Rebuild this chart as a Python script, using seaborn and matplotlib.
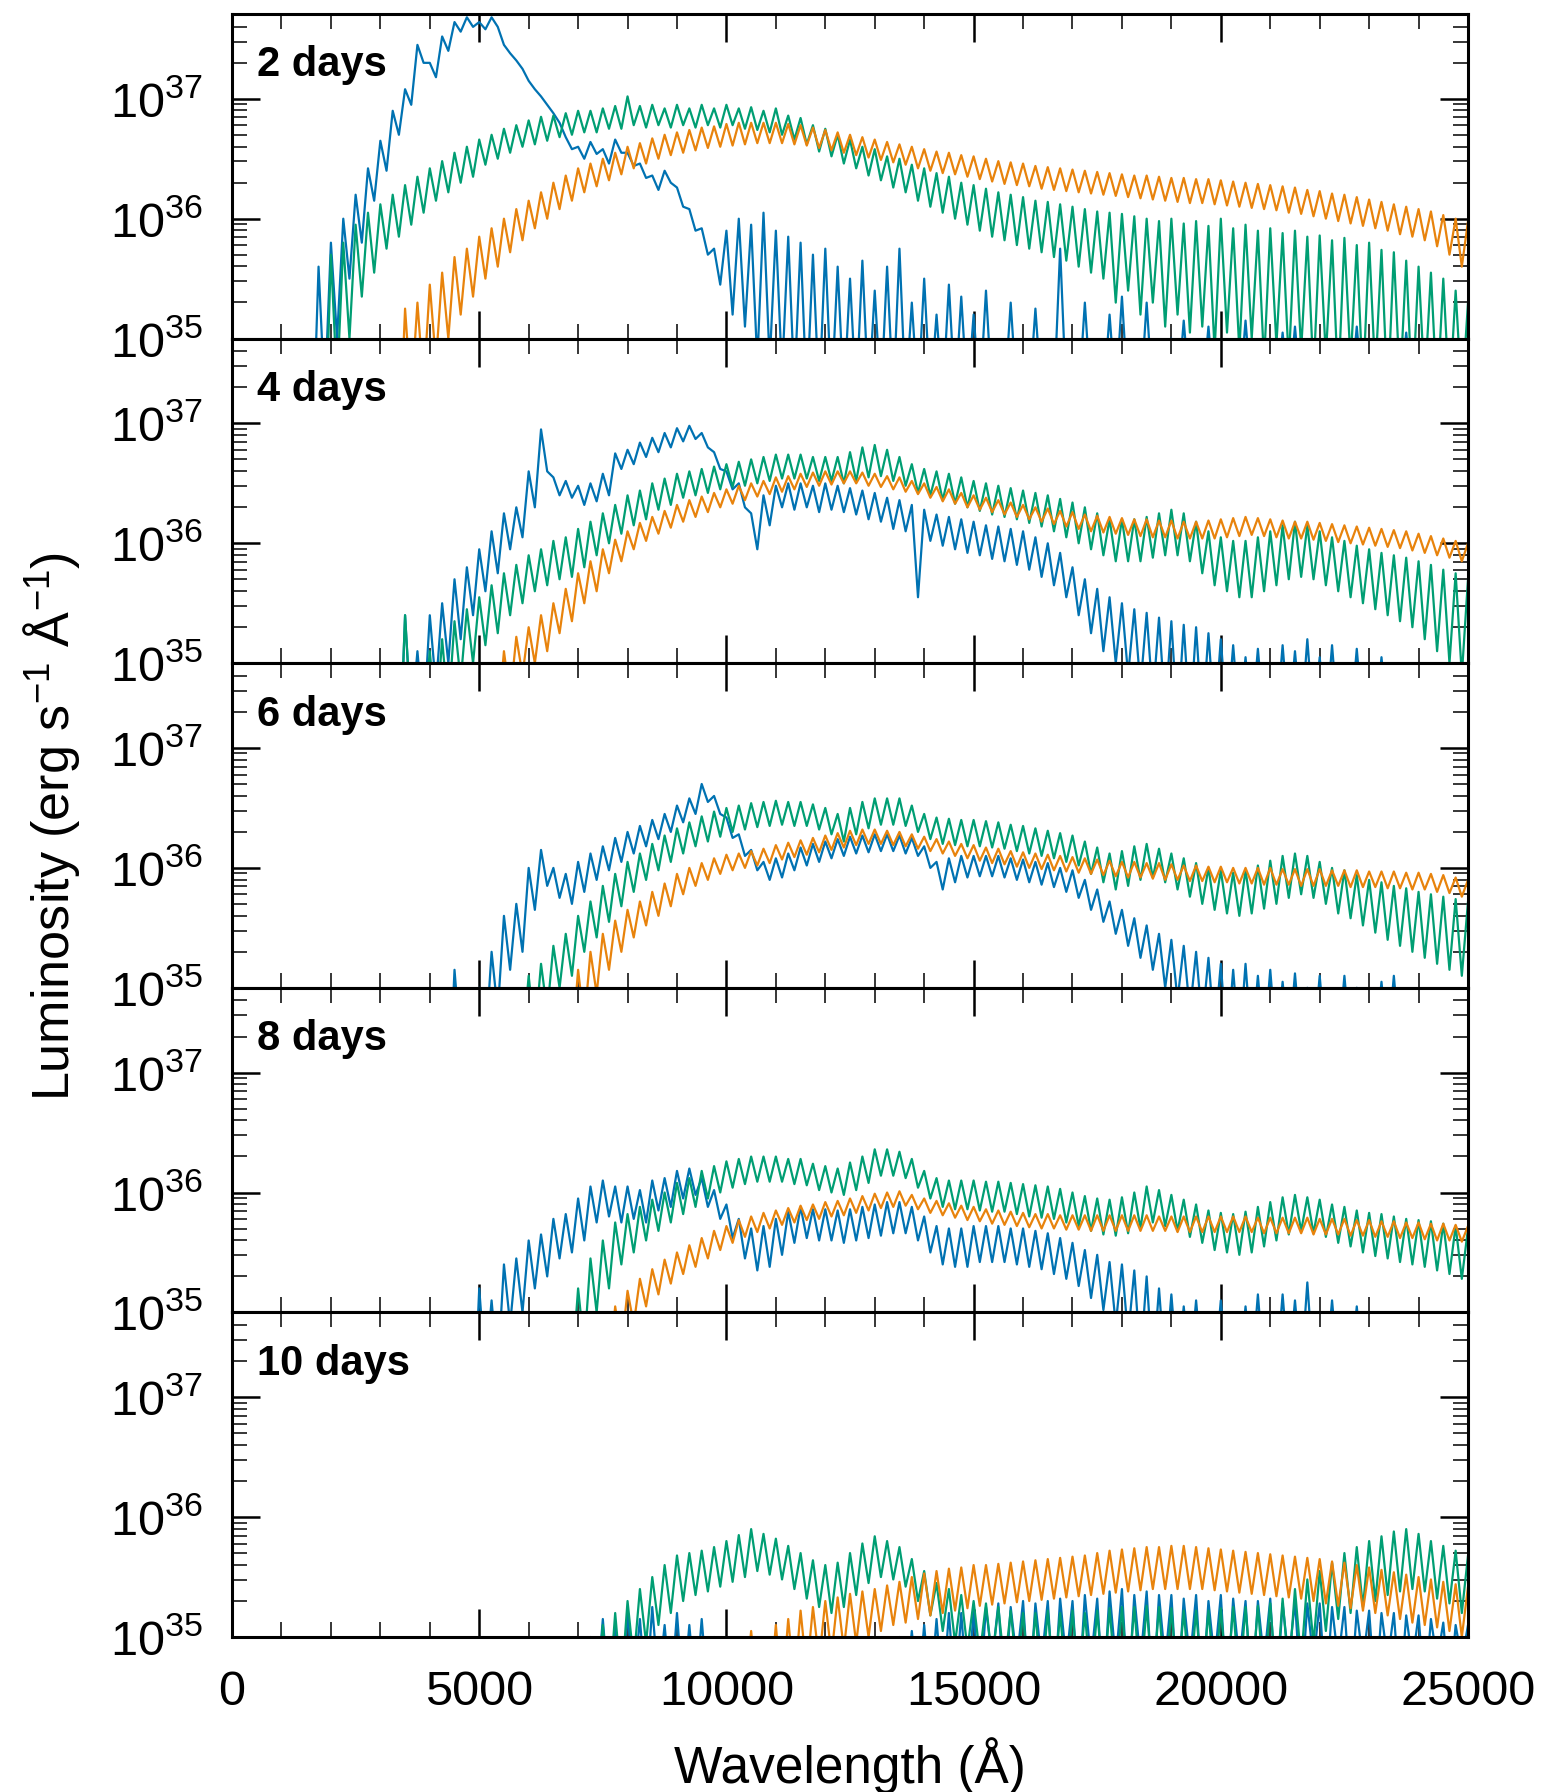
import numpy as np
import pandas as pd
import matplotlib
matplotlib.use("Agg")
import matplotlib.pyplot as plt
import seaborn as sns
from matplotlib.ticker import MultipleLocator, LogLocator, LogFormatterMathtext, NullFormatter

# ---------------- data: log10 luminosity ----------------
# Each noisy spectrum is given by its upper-envelope readings (at wave_hi)
# and its lower-envelope readings (at wave_lo, half a step later).
wave_hi = np.arange(0, 25001, 250)
wave_lo = wave_hi + 125
days = [2, 4, 6, 8, 10]
models = ["blue", "green", "orange"]
colors = {"blue": "#0072B2", "green": "#009E73", "orange": "#E8830C"}

# ---- 2 days ----
b1_hi = [34,34,34,34,34,34,34,35.6,35.8,36.0,
         36.2,36.42,36.65,36.9,37.08,37.45,37.3,37.52,37.64,37.68,
         37.64,37.68,37.45,37.32,37.15,37.02,36.88,36.68,36.6,36.64,
         36.58,36.66,36.55,36.46,36.36,36.4,36.26,36.08,35.92,35.75,
         35.9,36.0,35.95,36.05,35.9,35.85,35.8,35.7,35.75,35.6,
         35.5,35.65,35.4,35.6,35.75,35.3,35.5,35.2,35.45,35.35,
         35.2,35.4,34.5,35.3,34.5,35.25,34.5,35.75,34.5,35.3,
         34.5,35.2,35.35,34.5,35.3,34.5,35.0,35.15,34.5,35.1,
         34.5,34.5,35.15,34.5,34.5,35.05,35.1,34.5,34.5,34.5,
         34.5,35.1,34.5,34.5,34.5,35.05,34.5,34.5,34.5,34.5,
         34.5]
b1_lo = [34,34,34,34,34,34,34,34.5,35.0,35.5,
         35.8,36.15,36.4,36.7,36.95,37.3,37.18,37.4,37.56,37.6,
         37.58,37.6,37.38,37.25,37.08,36.95,36.8,36.58,36.5,36.54,
         36.46,36.55,36.44,36.34,36.24,36.3,36.1,35.9,35.7,35.45,
         35.2,35.1,34.8,34.8,34.7,34.6,34.5,34.5,34.5,34.5,
         34.5,34.5,34.5,34.5,34.5,34.5,34.5,34.5,34.5,34.5,
         34.5,34.5,34.5,34.5,34.5,34.5,34.5,34.5,34.5,34.5,
         34.5,34.5,34.5,34.5,34.5,34.5,34.5,34.5,34.5,34.5,
         34.5,34.5,34.5,34.5,34.5,34.5,34.5,34.5,34.5,34.5,
         34.5,34.5,34.5,34.5,34.5,34.5,34.5,34.5,34.5,34.5,
         34.5]
g1_hi = [34,34,34,34,34,34,34,34,35.7,35.8,
         35.95,36.05,36.12,36.2,36.28,36.35,36.42,36.48,36.55,36.6,
         36.66,36.7,36.75,36.78,36.82,36.85,36.86,36.88,36.9,36.9,
         36.92,36.94,37.02,36.94,36.95,36.92,36.95,36.92,36.95,36.92,
         36.95,36.92,36.93,36.9,36.92,36.86,36.84,36.78,36.75,36.7,
         36.66,36.6,36.58,36.52,36.5,36.45,36.42,36.38,36.35,36.3,
         36.28,36.25,36.22,36.2,36.18,36.15,36.14,36.12,36.1,36.08,
         36.06,36.05,36.04,36.02,36.0,35.98,36.0,35.96,35.98,35.94,
         36.0,35.92,35.95,35.9,35.92,35.88,35.9,35.85,35.86,35.82,
         35.84,35.78,35.8,35.74,35.72,35.65,35.6,35.55,35.5,35.4,
         35.3]
g1_lo = [34,34,34,34,34,34,34,34,34.6,35.0,
         35.35,35.55,35.75,35.85,35.95,36.05,36.15,36.22,36.3,36.35,
         36.45,36.5,36.55,36.6,36.62,36.65,36.68,36.7,36.72,36.72,
         36.75,36.75,36.78,36.76,36.78,36.76,36.78,36.76,36.78,36.76,
         36.78,36.75,36.74,36.72,36.7,36.66,36.62,36.56,36.52,36.46,
         36.42,36.36,36.32,36.26,36.22,36.15,36.1,36.05,36.0,35.95,
         35.9,35.85,35.82,35.78,35.75,35.72,35.68,35.65,35.6,35.55,
         35.5,35.3,35.4,35.2,35.3,35.1,35.2,35.05,35.1,34.9,
         35.05,34.9,35.0,34.8,34.95,34.8,34.9,34.7,34.85,34.6,
         34.8,34.6,34.7,34.5,34.6,34.5,34.6,34.5,34.5,34.5,
         34.5]
o1_hi = [34,34,34,34,34,34,34,34,34,34,
         34,34,34,34,35.25,35.3,35.45,35.55,35.68,35.75,
         35.85,35.92,36.0,36.08,36.15,36.22,36.3,36.36,36.42,36.46,
         36.5,36.55,36.6,36.63,36.67,36.7,36.72,36.74,36.76,36.77,
         36.79,36.8,36.8,36.8,36.8,36.79,36.78,36.76,36.74,36.72,
         36.7,36.68,36.66,36.64,36.62,36.6,36.58,36.56,36.55,36.53,
         36.52,36.5,36.48,36.47,36.46,36.44,36.43,36.42,36.41,36.4,
         36.39,36.38,36.37,36.36,36.36,36.35,36.34,36.34,36.33,36.33,
         36.32,36.31,36.3,36.29,36.28,36.27,36.26,36.24,36.23,36.21,
         36.2,36.18,36.16,36.14,36.12,36.1,36.08,36.06,36.03,36.0,
         35.98]
o1_lo = [34,34,34,34,34,34,34,34,34,34,
         34,34,34,34,34.5,34.6,34.8,35.0,35.2,35.35,
         35.5,35.6,35.72,35.82,35.92,36.0,36.08,36.15,36.22,36.27,
         36.32,36.37,36.42,36.46,36.5,36.53,36.55,36.57,36.59,36.6,
         36.61,36.62,36.63,36.63,36.63,36.62,36.61,36.59,36.57,36.55,
         36.53,36.51,36.49,36.47,36.45,36.42,36.4,36.38,36.37,36.35,
         36.33,36.31,36.29,36.28,36.27,36.25,36.24,36.23,36.22,36.21,
         36.2,36.19,36.18,36.17,36.16,36.15,36.14,36.13,36.13,36.12,
         36.11,36.1,36.09,36.08,36.07,36.05,36.04,36.02,36.0,35.98,
         35.96,35.94,35.92,35.9,35.87,35.85,35.82,35.77,35.7,35.6,
         35.7]

# ---- 4 days ----
b2_hi = [34,34,34,34,34,34,34,34,34,34,
         34,34,34,34,35.4,35.1,35.4,35.5,35.7,35.8,
         35.95,36.1,36.25,36.3,36.6,36.95,36.55,36.52,36.48,36.5,
         36.58,36.75,36.78,36.84,36.88,36.92,36.96,36.98,36.92,36.76,
         36.6,36.5,36.25,36.4,36.48,36.5,36.5,36.48,36.5,36.48,
         36.46,36.44,36.42,36.38,36.36,36.32,36.28,36.24,36.22,36.2,
         36.18,36.15,36.14,36.12,36.1,36.05,36.0,35.92,35.8,35.7,
         35.62,35.55,35.5,35.45,35.42,35.38,35.35,35.32,35.3,35.25,
         35.2,35.15,35.05,35.12,34.5,35.15,35.1,35.2,35.05,35.15,
         35.0,35.12,34.5,35.05,34.5,34.5,34.5,34.5,34.5,34.5,
         34.5]
b2_lo = [34,34,34,34,34,34,34,34,34,34,
         34,34,34,34,34.5,34.5,34.8,35.0,35.2,35.4,
         35.6,35.75,35.95,36.05,36.3,36.6,36.4,36.38,36.32,36.35,
         36.4,36.62,36.66,36.72,36.76,36.8,36.85,36.87,36.8,36.62,
         36.45,36.3,35.95,36.15,36.3,36.28,36.3,36.26,36.28,36.26,
         36.24,36.2,36.18,36.12,36.1,35.55,36.02,35.98,35.95,35.92,
         35.9,35.87,35.85,35.82,35.78,35.72,35.65,35.55,35.4,35.25,
         35.1,35.0,34.9,34.8,34.7,34.6,34.5,34.5,34.5,34.5,
         34.5,34.5,34.5,34.5,34.5,34.5,34.5,34.5,34.5,34.5,
         34.5,34.5,34.5,34.5,34.5,34.5,34.5,34.5,34.5,34.5,
         34.5]
g2_hi = [34,34,34,34,34,34,34,34,34,34,
         34,34,34,34,35.4,34.5,35.1,35.2,35.35,35.45,
         35.55,35.65,35.75,35.82,35.9,35.95,36.02,36.05,36.12,36.18,
         36.25,36.32,36.4,36.44,36.5,36.54,36.58,36.6,36.62,36.64,
         36.66,36.68,36.7,36.72,36.74,36.74,36.74,36.72,36.72,36.72,
         36.76,36.8,36.82,36.78,36.72,36.66,36.62,36.6,36.58,36.55,
         36.52,36.5,36.48,36.46,36.44,36.42,36.4,36.37,36.34,36.3,
         36.25,36.2,36.2,36.2,36.22,36.25,36.28,36.25,36.18,36.1,
         36.05,36.02,36.02,36.05,36.1,36.15,36.18,36.15,36.1,36.05,
         36.02,35.98,35.95,35.92,35.9,35.88,35.85,35.82,35.78,35.75,
         35.7]
g2_lo = [34,34,34,34,34,34,34,34,34,34,
         34,34,34,34,34.5,34.5,34.5,34.6,34.85,35.0,
         35.15,35.25,35.4,35.5,35.6,35.65,35.7,35.72,35.8,35.9,
         36.0,36.08,36.15,36.2,36.28,36.32,36.38,36.4,36.42,36.45,
         36.47,36.48,36.5,36.52,36.54,36.54,36.54,36.52,36.52,36.5,
         36.52,36.55,36.56,36.52,36.48,36.42,36.4,36.36,36.33,36.3,
         36.27,36.24,36.22,36.2,36.17,36.14,36.1,36.05,36.0,35.95,
         35.9,35.85,35.85,35.85,35.88,35.9,35.9,35.85,35.75,35.65,
         35.6,35.55,35.55,35.6,35.65,35.7,35.72,35.7,35.65,35.6,
         35.55,35.5,35.45,35.4,35.35,35.3,35.2,35.1,35.0,34.9,
         35.2]
o2_hi = [34,34,34,34,34,34,34,34,34,34,
         34,34,34,34,34,34,34,34,34,34,
         34,35.0,35.1,35.22,35.3,35.4,35.5,35.62,35.75,35.85,
         35.95,36.03,36.1,36.17,36.22,36.27,36.32,36.36,36.39,36.42,
         36.45,36.48,36.5,36.52,36.55,36.56,36.58,36.59,36.6,36.6,
         36.6,36.59,36.58,36.56,36.55,36.52,36.5,36.47,36.45,36.42,
         36.4,36.38,36.36,36.34,36.32,36.3,36.29,36.27,36.26,36.24,
         36.23,36.22,36.21,36.2,36.2,36.19,36.19,36.18,36.18,36.19,
         36.2,36.21,36.22,36.21,36.2,36.19,36.18,36.18,36.17,36.16,
         36.15,36.14,36.13,36.12,36.11,36.1,36.08,36.06,36.04,36.02,
         36.0]
o2_lo = [34,34,34,34,34,34,34,34,34,34,
         34,34,34,34,34,34,34,34,34,34,
         34,34.5,34.7,34.9,35.0,35.1,35.25,35.35,35.5,35.6,
         35.75,35.85,35.95,36.02,36.08,36.13,36.18,36.22,36.26,36.3,
         36.33,36.36,36.39,36.41,36.43,36.45,36.47,36.48,36.49,36.5,
         36.5,36.48,36.47,36.45,36.43,36.41,36.38,36.35,36.33,36.3,
         36.28,36.26,36.24,36.22,36.2,36.18,36.16,36.14,36.12,36.1,
         36.09,36.08,36.07,36.06,36.05,36.05,36.04,36.04,36.04,36.04,
         36.05,36.06,36.07,36.06,36.05,36.04,36.04,36.03,36.02,36.01,
         36.0,35.99,35.98,35.97,35.96,35.94,35.92,35.9,35.88,35.85,
         35.88]

# ---- 6 days ----
b3_hi = [34,34,34,34,34,34,34,34,34,34,
         34,34,34,34,34,34,34,34,35.15,34.5,
         35.0,35.3,35.6,35.7,36.0,36.15,36.0,35.95,36.05,36.12,
         36.18,36.25,36.3,36.35,36.4,36.45,36.52,36.58,36.7,36.6,
         36.42,36.28,36.15,36.05,36.08,36.12,36.17,36.2,36.22,36.24,
         36.26,36.27,36.28,36.28,36.27,36.25,36.18,36.05,36.08,36.1,
         36.1,36.1,36.1,36.08,36.07,36.05,36.04,36.0,35.98,35.9,
         35.82,35.72,35.65,35.58,35.52,35.45,35.4,35.35,35.3,35.25,
         35.2,35.15,35.2,35.1,35.15,35.05,35.12,35.0,35.1,34.5,
         35.1,35.0,34.5,35.05,35.1,34.5,34.5,34.5,34.5,34.5,
         34.5]
b3_lo = [34,34,34,34,34,34,34,34,34,34,
         34,34,34,34,34,34,34,34,34.5,34.5,
         34.5,34.8,35.15,35.3,35.65,35.85,35.75,35.7,35.8,35.9,
         35.98,36.05,36.12,36.18,36.24,36.3,36.38,36.45,36.55,36.45,
         36.25,36.1,35.98,35.9,35.92,35.98,36.02,36.05,36.08,36.1,
         36.12,36.13,36.14,36.14,36.12,36.1,36.0,35.82,35.88,35.92,
         35.93,35.93,35.92,35.9,35.88,35.86,35.84,35.8,35.75,35.65,
         35.55,35.45,35.35,35.25,35.15,35.0,34.9,34.8,34.7,34.6,
         34.5,34.5,34.5,34.5,34.5,34.5,34.5,34.5,34.5,34.5,
         34.5,34.5,34.5,34.5,34.5,34.5,34.5,34.5,34.5,34.5,
         34.5]
g3_hi = [34,34,34,34,34,34,34,34,34,34,
         34,34,34,34,34,34,34,34,34,34,
         34,34,34,34.8,35.1,35.2,35.35,35.45,35.6,35.72,
         35.85,35.95,36.05,36.12,36.2,36.27,36.33,36.38,36.43,36.47,
         36.5,36.52,36.54,36.55,36.56,36.55,36.55,36.53,36.5,36.45,
         36.5,36.55,36.58,36.58,36.58,36.52,36.45,36.42,36.41,36.4,
         36.4,36.39,36.38,36.36,36.35,36.33,36.31,36.29,36.27,36.22,
         36.17,36.12,36.14,36.18,36.2,36.16,36.12,36.08,36.04,36.0,
         35.98,35.96,35.98,36.02,36.06,36.1,36.12,36.1,36.05,36.0,
         35.98,35.94,35.9,35.88,35.85,35.83,35.8,35.78,35.76,35.74,
         35.72]
g3_lo = [34,34,34,34,34,34,34,34,34,34,
         34,34,34,34,34,34,34,34,34,34,
         34,34,34,34.5,34.6,34.8,35.0,35.1,35.3,35.42,
         35.55,35.68,35.8,35.9,35.98,36.05,36.12,36.18,36.22,36.26,
         36.3,36.32,36.34,36.35,36.36,36.35,36.35,36.32,36.28,36.22,
         36.28,36.33,36.36,36.36,36.35,36.3,36.24,36.2,36.19,36.18,
         36.18,36.17,36.16,36.14,36.12,36.1,36.08,36.05,36.02,35.95,
         35.88,35.82,35.85,35.9,35.92,35.88,35.82,35.76,35.7,35.65,
         35.62,35.6,35.62,35.66,35.7,35.75,35.78,35.75,35.7,35.62,
         35.58,35.52,35.46,35.4,35.35,35.3,35.25,35.2,35.15,35.1,
         35.4]
o3_hi = [34,34,34,34,34,34,34,34,34,34,
         34,34,34,34,34,34,34,34,34,34,
         34,34,34,34,34,34,34,34.9,35.15,35.3,
         35.45,35.56,35.65,35.72,35.8,35.87,35.95,36.0,36.04,36.08,
         36.11,36.12,36.14,36.16,36.19,36.21,36.23,36.25,36.27,36.29,
         36.31,36.32,36.32,36.31,36.3,36.28,36.26,36.24,36.22,36.2,
         36.19,36.17,36.16,36.14,36.13,36.12,36.11,36.1,36.09,36.08,
         36.07,36.06,36.05,36.05,36.04,36.04,36.03,36.02,36.02,36.01,
         36.01,36.0,36.0,36.0,36.0,35.99,35.99,35.99,35.99,35.98,
         35.98,35.98,35.97,35.97,35.97,35.96,35.96,35.95,35.94,35.92,
         35.9]
o3_lo = [34,34,34,34,34,34,34,34,34,34,
         34,34,34,34,34,34,34,34,34,34,
         34,34,34,34,34,34,34,34.5,34.7,34.95,
         35.15,35.3,35.42,35.52,35.6,35.68,35.78,35.85,35.9,35.95,
         35.98,36.0,36.02,36.04,36.07,36.09,36.11,36.13,36.15,36.17,
         36.19,36.2,36.2,36.19,36.18,36.16,36.14,36.12,36.1,36.08,
         36.06,36.04,36.03,36.01,36.0,35.99,35.98,35.97,35.96,35.95,
         35.94,35.93,35.92,35.92,35.91,35.9,35.9,35.89,35.89,35.88,
         35.88,35.87,35.87,35.86,35.86,35.86,35.85,35.85,35.85,35.85,
         35.84,35.84,35.84,35.83,35.83,35.82,35.82,35.8,35.79,35.76,
         35.78]

# ---- 8 days ----
b4_hi = [34,34,34,34,34,34,34,34,34,34,
         34,34,34,34,34,34,34,34,34,34,
         35.2,35.1,35.4,35.45,35.6,35.65,35.78,35.82,35.95,36.05,
         36.1,36.05,36.05,36.02,36.1,36.12,36.18,36.2,36.12,36.02,
         35.9,35.78,35.7,35.72,35.78,35.84,35.88,35.86,35.86,35.85,
         35.86,35.88,35.9,35.92,35.92,35.88,35.8,35.72,35.7,35.7,
         35.72,35.72,35.72,35.7,35.7,35.68,35.66,35.62,35.58,35.52,
         35.48,35.42,35.4,35.35,35.3,35.2,35.15,35.05,35.1,35.0,
         35.1,34.5,35.05,35.15,34.5,35.15,35.1,35.25,35.0,35.1,
         34.5,35.05,34.5,34.5,34.5,34.5,34.5,34.5,34.5,34.5,
         34.5]
b4_lo = [34,34,34,34,34,34,34,34,34,34,
         34,34,34,34,34,34,34,34,34,34,
         34.5,34.5,34.9,35.0,35.2,35.3,35.45,35.5,35.6,35.75,
         35.8,35.75,35.78,35.75,35.85,35.88,35.95,35.98,35.88,35.78,
         35.62,35.45,35.35,35.38,35.48,35.58,35.62,35.6,35.6,35.58,
         35.6,35.62,35.64,35.66,35.66,35.6,35.5,35.4,35.38,35.38,
         35.42,35.42,35.42,35.4,35.38,35.36,35.32,35.28,35.22,35.12,
         35.02,34.9,34.8,34.6,34.5,34.5,34.5,34.5,34.5,34.5,
         34.5,34.5,34.5,34.5,34.5,34.5,34.5,34.5,34.5,34.5,
         34.5,34.5,34.5,34.5,34.5,34.5,34.5,34.5,34.5,34.5,
         34.5]
g4_hi = [34,34,34,34,34,34,34,34,34,34,
         34,34,34,34,34,34,34,34,34,34,
         34,34,34,34,34,34,34,34.9,35.2,35.45,
         35.6,35.75,35.82,35.88,35.94,36.0,36.08,36.12,36.18,36.22,
         36.26,36.28,36.3,36.3,36.3,36.28,36.28,36.24,36.22,36.2,
         36.25,36.3,36.36,36.36,36.34,36.28,36.18,36.12,36.1,36.1,
         36.1,36.09,36.09,36.08,36.07,36.06,36.05,36.03,36.0,35.97,
         35.95,35.94,35.96,36.0,36.05,36.02,35.98,35.94,35.9,35.85,
         35.83,35.82,35.84,35.88,35.92,35.96,35.98,35.96,35.94,35.9,
         35.88,35.85,35.83,35.82,35.8,35.78,35.77,35.76,35.74,35.72,
         35.7]
g4_lo = [34,34,34,34,34,34,34,34,34,34,
         34,34,34,34,34,34,34,34,34,34,
         34,34,34,34,34,34,34,34.5,34.7,35.0,
         35.2,35.4,35.5,35.6,35.68,35.75,35.82,35.88,35.95,36.0,
         36.04,36.07,36.09,36.09,36.09,36.07,36.06,36.02,36.0,35.98,
         36.02,36.08,36.14,36.14,36.12,36.04,35.95,35.88,35.86,35.86,
         35.85,35.84,35.84,35.82,35.8,35.79,35.78,35.75,35.72,35.68,
         35.65,35.64,35.66,35.7,35.75,35.72,35.68,35.63,35.58,35.52,
         35.5,35.48,35.5,35.55,35.6,35.65,35.68,35.66,35.63,35.58,
         35.55,35.5,35.47,35.45,35.42,35.4,35.38,35.35,35.32,35.28,
         35.4]
o4_hi = [34,34,34,34,34,34,34,34,34,34,
         34,34,34,34,34,34,34,34,34,34,
         34,34,34,34,34,34,34,34,34,34,
         34.9,35.05,35.18,35.28,35.36,35.44,35.5,35.56,35.62,35.68,
         35.72,35.77,35.8,35.83,35.85,35.87,35.89,35.9,35.92,35.93,
         35.95,35.97,35.99,36.0,36.01,35.98,35.95,35.93,35.91,35.89,
         35.88,35.86,35.85,35.84,35.83,35.82,35.82,35.81,35.81,35.81,
         35.81,35.81,35.81,35.81,35.81,35.8,35.8,35.8,35.8,35.8,
         35.8,35.8,35.8,35.79,35.79,35.79,35.79,35.79,35.78,35.78,
         35.78,35.77,35.77,35.76,35.76,35.75,35.75,35.74,35.74,35.73,
         35.72]
o4_lo = [34,34,34,34,34,34,34,34,34,34,
         34,34,34,34,34,34,34,34,34,34,
         34,34,34,34,34,34,34,34,34,34,
         34.5,34.7,34.9,35.05,35.15,35.24,35.32,35.38,35.45,35.52,
         35.58,35.63,35.67,35.7,35.73,35.75,35.77,35.78,35.8,35.81,
         35.83,35.85,35.87,35.88,35.89,35.86,35.83,35.81,35.79,35.77,
         35.76,35.74,35.73,35.72,35.71,35.7,35.7,35.69,35.69,35.68,
         35.68,35.68,35.68,35.68,35.68,35.68,35.67,35.67,35.67,35.67,
         35.67,35.67,35.67,35.66,35.66,35.66,35.66,35.65,35.65,35.65,
         35.64,35.64,35.63,35.63,35.62,35.62,35.61,35.6,35.6,35.59,
         35.6]

# ---- 10 days ----
b5_hi = [34,34,34,34,34,34,34,34,34,34,
         34,34,34,34,34,34,34,34,34,34,
         34,34,34,34,34,34,34,34,34,35.0,
         35.15,35.1,35.2,35.15,35.25,35.1,35.2,35.1,35.15,35.0,
         34.5,34.5,34.5,34.5,34.5,34.5,34.5,34.5,34.5,34.5,
         34.5,34.5,34.5,34.9,35.0,35.05,35.1,35.15,35.2,35.2,
         35.22,35.25,35.28,35.25,35.3,35.28,35.3,35.32,35.3,35.35,
         35.32,35.38,35.4,35.35,35.38,35.35,35.35,35.32,35.35,35.3,
         35.35,35.32,35.3,35.3,35.32,35.28,35.3,35.28,35.28,35.25,
         35.25,35.22,35.22,35.2,35.2,35.18,35.18,35.15,35.12,35.1,
         35.1]
b5_lo = [34,34,34,34,34,34,34,34,34,34,
         34,34,34,34,34,34,34,34,34,34,
         34,34,34,34,34,34,34,34,34,34.5,
         34.5,34.5,34.6,34.5,34.6,34.5,34.5,34.5,34.5,34.5,
         34.5,34.5,34.5,34.5,34.5,34.5,34.5,34.5,34.5,34.5,
         34.5,34.5,34.5,34.5,34.5,34.5,34.5,34.5,34.5,34.5,
         34.5,34.8,34.5,34.8,34.5,34.8,34.5,34.8,34.5,34.8,
         34.5,34.8,34.5,34.8,34.5,34.8,34.5,34.8,34.5,34.8,
         34.5,34.8,34.5,34.8,34.5,34.8,34.5,34.8,34.5,34.8,
         34.5,34.8,34.5,34.8,34.5,34.8,34.5,34.8,34.5,34.8,
         34.5]
g5_hi = [34,34,34,34,34,34,34,34,34,34,
         34,34,34,34,34,34,34,34,34,34,
         34,34,34,34,34,34,34,34,34,34.8,
         35.1,35.2,35.3,35.4,35.5,35.6,35.68,35.7,35.72,35.75,
         35.8,35.85,35.9,35.86,35.82,35.76,35.7,35.64,35.6,35.62,
         35.7,35.78,35.84,35.8,35.75,35.65,35.55,35.45,35.4,35.35,
         35.3,35.28,35.25,35.22,35.2,35.2,35.22,35.2,35.22,35.2,
         35.22,35.24,35.25,35.25,35.26,35.25,35.24,35.22,35.22,35.22,
         35.24,35.25,35.25,35.26,35.28,35.32,35.4,35.48,35.55,35.62,
         35.7,35.75,35.8,35.84,35.88,35.9,35.86,35.8,35.76,35.72,
         35.68]
g5_lo = [34,34,34,34,34,34,34,34,34,34,
         34,34,34,34,34,34,34,34,34,34,
         34,34,34,34,34,34,34,34,34,34.5,
         34.5,34.6,34.8,34.95,35.1,35.2,35.3,35.35,35.38,35.42,
         35.46,35.5,35.55,35.52,35.48,35.4,35.32,35.25,35.2,35.25,
         35.35,35.45,35.5,35.48,35.42,35.3,35.18,35.05,34.95,34.9,
         34.85,34.8,34.75,34.7,34.6,34.6,34.6,34.6,34.6,34.6,
         34.6,34.6,34.6,34.6,34.6,34.6,34.6,34.6,34.6,34.6,
         34.6,34.6,34.6,34.6,34.6,34.7,34.8,34.95,35.05,35.15,
         35.2,35.25,35.3,35.35,35.38,35.4,35.38,35.32,35.28,35.2,
         35.3]
o5_hi = [34,34,34,34,34,34,34,34,34,34,
         34,34,34,34,34,34,34,34,34,34,
         34,34,34,34,34,34,34,34,34,34,
         34,34,34,34,34,34,34,34,34,34,
         34,34.8,35.05,34.9,35.1,35.15,35.22,35.25,35.3,35.33,
         35.36,35.38,35.4,35.43,35.46,35.5,35.53,35.55,35.57,35.58,
         35.6,35.6,35.61,35.62,35.63,35.64,35.65,35.66,35.67,35.68,
         35.7,35.72,35.73,35.74,35.75,35.75,35.76,35.76,35.75,35.74,
         35.73,35.72,35.71,35.7,35.69,35.68,35.67,35.66,35.65,35.63,
         35.62,35.6,35.58,35.56,35.54,35.52,35.5,35.48,35.46,35.44,
         35.42]
o5_lo = [34,34,34,34,34,34,34,34,34,34,
         34,34,34,34,34,34,34,34,34,34,
         34,34,34,34,34,34,34,34,34,34,
         34,34,34,34,34,34,34,34,34,34,
         34,34.5,34.5,34.5,34.5,34.6,34.7,34.8,34.85,34.9,
         34.95,35.0,35.05,35.1,35.12,35.15,35.18,35.2,35.22,35.24,
         35.26,35.27,35.28,35.29,35.3,35.31,35.32,35.33,35.34,35.35,
         35.36,35.37,35.38,35.39,35.4,35.4,35.4,35.4,35.4,35.39,
         35.38,35.37,35.36,35.35,35.34,35.33,35.32,35.3,35.28,35.26,
         35.24,35.22,35.2,35.18,35.15,35.12,35.1,35.08,35.05,35.0,
         35.1]

panels = [
    ((b1_hi, b1_lo), (g1_hi, g1_lo), (o1_hi, o1_lo)),
    ((b2_hi, b2_lo), (g2_hi, g2_lo), (o2_hi, o2_lo)),
    ((b3_hi, b3_lo), (g3_hi, g3_lo), (o3_hi, o3_lo)),
    ((b4_hi, b4_lo), (g4_hi, g4_lo), (o4_hi, o4_lo)),
    ((b5_hi, b5_lo), (g5_hi, g5_lo), (o5_hi, o5_lo)),
]

# ---------------- style ----------------
sns.set_style("ticks")
plt.rcParams["font.family"] = ["Liberation Sans", "DejaVu Sans"]
plt.rcParams["mathtext.fontset"] = "custom"
plt.rcParams["mathtext.rm"] = "Liberation Sans"
plt.rcParams["mathtext.it"] = "Liberation Sans:italic"
plt.rcParams["mathtext.bf"] = "Liberation Sans:bold"
plt.rcParams["mathtext.default"] = "regular"
for k in ["text.color", "axes.labelcolor", "xtick.color", "ytick.color", "axes.edgecolor"]:
    plt.rcParams[k] = "black"

fig, axes = plt.subplots(5, 1, figsize=(15.5, 17.92), dpi=100, sharex=True)
fig.subplots_adjust(left=0.1497, right=0.9471, top=0.9922, bottom=0.0865, hspace=0)

x_seq = np.column_stack([wave_hi, wave_lo]).ravel()
for ax, d, series in zip(axes, days, panels):
    frames = []
    for m, (hi, lo) in zip(models, series):
        y_seq = np.column_stack([hi, lo]).ravel()
        frames.append(pd.DataFrame({"wave": x_seq, "lum": 10.0 ** y_seq, "model": m}))
    df = pd.concat(frames, ignore_index=True)
    sns.lineplot(data=df, x="wave", y="lum", hue="model", hue_order=models,
                 palette=colors, estimator=None, sort=False, legend=False,
                 linewidth=1.6, ax=ax)
    ax.set_yscale("log")
    ax.set_xlim(0, 25000)
    ax.set_ylim(1e35, 5.1e37)
    ax.set_xlabel("")
    ax.set_ylabel("")
    ax.xaxis.set_major_locator(MultipleLocator(5000))
    ax.xaxis.set_minor_locator(MultipleLocator(1000))
    ax.yaxis.set_major_locator(LogLocator(base=10, numticks=10))
    ax.yaxis.set_minor_locator(LogLocator(base=10, subs=np.arange(2, 10), numticks=20))
    ax.yaxis.set_major_formatter(LogFormatterMathtext())
    ax.yaxis.set_minor_formatter(NullFormatter())
    ax.tick_params(which="both", direction="in", top=True, right=True, colors="black")
    ax.tick_params(which="major", length=20, width=1.8, labelsize=35)
    ax.tick_params(which="minor", length=11, width=1.1)
    ax.tick_params(axis="y", which="major", pad=21)
    ax.tick_params(axis="x", which="major", pad=24)
    for s in ax.spines.values():
        s.set_linewidth(2.2)
        s.set_color("black")
    ax.text(0.02, 0.808, f"{d} days", transform=ax.transAxes, fontsize=30,
            fontweight="bold", va="baseline", ha="left")

fig.text(0.033, 0.539, r"Luminosity (erg s$^{-1}$ Å$^{-1}$)", rotation=90,
         va="center", ha="center", fontsize=37.5)
fig.text(0.5484, 0.0145, "Wavelength (Å)", va="center", ha="center", fontsize=37)

fig.savefig("out.png", dpi=100)
